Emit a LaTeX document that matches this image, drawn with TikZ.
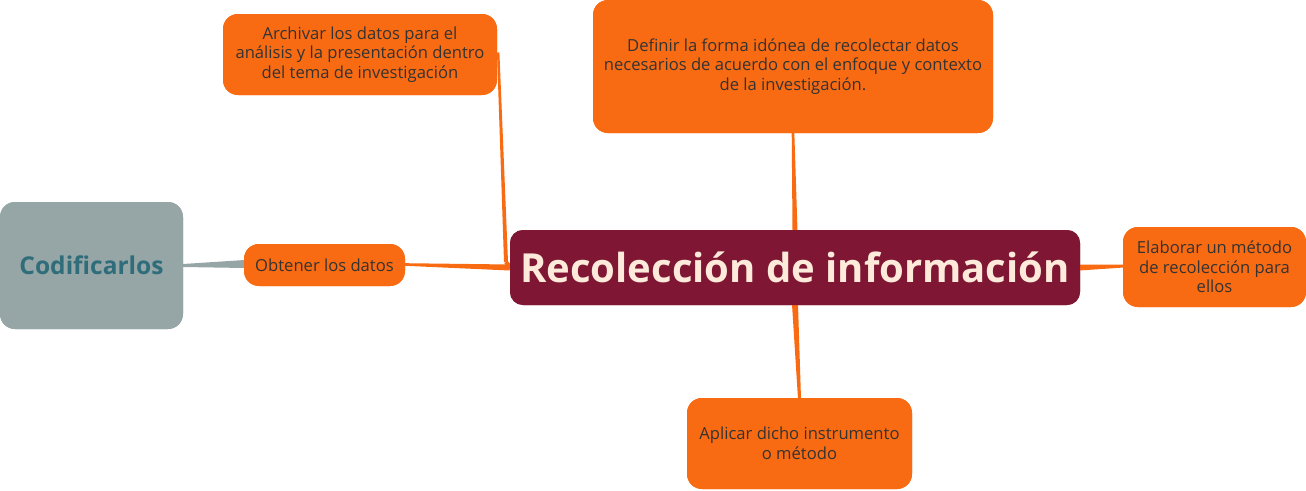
\documentclass[tikz,border=0pt]{standalone}
\usepackage{fontspec}
\setmainfont{Open Sans}
\usetikzlibrary{calc}
\definecolor{orng}{HTML}{F96B12}
\definecolor{wine}{HTML}{7F1734}
\definecolor{greybox}{HTML}{96A5A5}
\definecolor{tealtxt}{HTML}{2F6D7B}
\definecolor{cream}{HTML}{FDEADB}
\definecolor{darktxt}{HTML}{333333}
\newcommand{\taper}[5]{%
  \fill[#5] ($(#1)!#3!90:(#2)$) -- ($(#2)!#4!-90:(#1)$) -- ($(#2)!#4!90:(#1)$) -- ($(#1)!#3!-90:(#2)$) -- cycle;}
\begin{document}
\begin{tikzpicture}[x=1pt,y=-1pt,
  leaf/.style={fill=orng, rounded corners=15pt, text=darktxt, align=center,
    font=\fontsize{16.6}{19.5}\selectfont, inner sep=0pt},
  root/.style={fill=wine, rounded corners=13pt, text=cream, inner sep=0pt,
    font=\fontsize{40}{46}\selectfont\bfseries},
  subleaf/.style={fill=greybox, rounded corners=15pt, text=tealtxt, inner sep=0pt,
    font=\fontsize{24.5}{28}\selectfont\bfseries}]
\useasboundingbox (0,0) rectangle (1306,490);
% nodes
\node[root, minimum width=570pt, minimum height=75pt] (root) at (795,267.5) {};
\node[leaf, minimum width=274pt, minimum height=81pt] (arch) at (360,54.5) {};
\node[leaf, minimum width=400pt, minimum height=133pt] (def) at (793,66.5) {};
\node[leaf, minimum width=161pt, minimum height=42pt] (obt) at (324.5,265) {};
\node[subleaf, minimum width=183pt, minimum height=127pt] (cod) at (91.5,265.5) {};
\node[leaf, minimum width=183pt, minimum height=80pt] (elab) at (1214.5,267) {};
\node[leaf, minimum width=225pt, minimum height=91pt] (apl) at (799.5,443.5) {};
% connector points
\coordinate (rw) at (root.west);
\coordinate (bend) at (506,262);
\coordinate (at) at ($(arch.east)+(1,-2)$);
\coordinate (rt) at ($(root.north)+(0,1)$);
\coordinate (dt) at ($(def.south)+(0,-1)$);
\coordinate (rb) at ($(root.south)+(0,-1)$);
\coordinate (ab) at ($(apl.north)+(0,1)$);
\coordinate (re) at ($(root.east)+(-1,0)$);
\coordinate (ew) at ($(elab.west)+(1,-1)$);
\coordinate (ow) at ($(obt.west)+(1,-1)$);
\coordinate (oe) at ($(obt.east)+(0,-0.5)$);
\coordinate (ce) at (cod.east);
% connectors (tapered)
\taper{rw}{oe}{3pt}{1.3pt}{orng}
\taper{rw}{bend}{2.5pt}{2pt}{orng}
\taper{bend}{at}{2pt}{1.2pt}{orng}
\taper{rt}{dt}{2.5pt}{1.3pt}{orng}
\taper{rb}{ab}{3pt}{1.5pt}{orng}
\taper{re}{ew}{3pt}{1.5pt}{orng}
\taper{ow}{ce}{4pt}{1.5pt}{greybox}
% nodes on top
\node[root, minimum width=570pt, minimum height=75pt] at (root) {Recolección de información};
\node[leaf, minimum width=274pt, minimum height=81pt] at (arch)
  {Archivar los datos para el\\análisis y la presentación dentro\\del tema de investigación};
\node[leaf, minimum width=400pt, minimum height=133pt] at (def)
  {Definir la forma idónea de recolectar datos\\necesarios de acuerdo con el enfoque y contexto\\de la investigación.};
\node[leaf, minimum width=161pt, minimum height=42pt] at (obt) {Obtener los datos};
\node[subleaf, minimum width=183pt, minimum height=127pt] at (cod) {Codificarlos};
\node[leaf, minimum width=183pt, minimum height=80pt] at (elab)
  {Elaborar un método\\de recolección para\\ellos};
\node[leaf, minimum width=225pt, minimum height=91pt] at (apl)
  {Aplicar dicho instrumento\\o método};
\end{tikzpicture}
\end{document}
